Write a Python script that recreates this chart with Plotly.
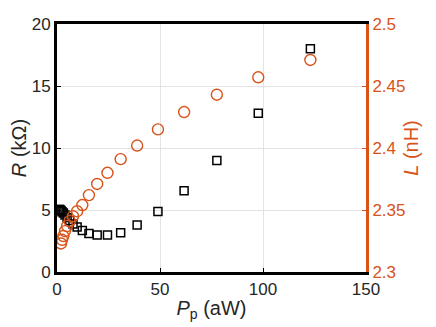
import plotly.graph_objects as go

# pump power (aW)
p_pump = [0.98, 1.23, 1.55, 1.95, 2.45, 3.09, 3.89, 4.9, 6.17, 7.76, 9.77,
          12.3, 15.5, 19.5, 24.5, 30.9, 38.9, 49.0, 61.7, 77.6, 97.7, 123.0]

# resistance (kOhm)
resistance = [5.05, 5.05, 5.0, 4.95, 4.85, 4.75, 4.6, 4.4, 4.15, 3.87, 3.62,
              3.35, 3.1, 2.98, 2.98, 3.17, 3.8, 4.87, 6.56, 9.0, 12.8, 18.0]

# inductance (nH)
p_pump_l = [1.95, 2.45, 3.09, 3.89, 4.9, 6.17, 7.76, 9.77, 12.3, 15.5, 19.5,
            24.5, 30.9, 38.9, 49.0, 61.7, 77.6, 97.7, 123.0]
inductance = [2.323, 2.326, 2.329, 2.333, 2.337, 2.341, 2.345, 2.349, 2.354,
              2.362, 2.371, 2.380, 2.391, 2.402, 2.415, 2.429, 2.443, 2.457,
              2.471]

orange = "#D95319"
dark = "#262626"
font = "Liberation Sans, Arial, sans-serif"

fig = go.Figure()

fig.add_trace(
    go.Scatter(
        x=p_pump,
        y=resistance,
        mode="markers",
        marker=dict(symbol="square-open", size=8, color="black",
                    line=dict(width=1.5, color="black")),
        yaxis="y",
        showlegend=False
    )
)

fig.add_trace(
    go.Scatter(
        x=p_pump_l,
        y=inductance,
        mode="markers",
        marker=dict(symbol="circle-open", size=11, color=orange,
                    line=dict(width=1.4, color=orange)),
        yaxis="y2",
        showlegend=False
    )
)

# page body adds an 8px offset, so the figure is a bit smaller than the window
fig.update_layout(
    width=428,
    height=319,
    margin=dict(l=49, r=70, t=16, b=55),
    plot_bgcolor="white",
    paper_bgcolor="white",
    font=dict(family=font, size=17, color=dark),
    xaxis=dict(
        range=[0, 150],
        tickvals=[0, 50, 100, 150],
        showgrid=True,
        gridcolor="#e3e3e3",
        gridwidth=1,
        zeroline=False,
        showline=True,
        linecolor="black",
        linewidth=3,
        mirror=True,
        ticks="inside",
        ticklen=4,
        tickcolor="black",
        automargin=False,
        title=dict(text="<i>P</i><sub>p</sub> (aW)", standoff=3),
    ),
    yaxis=dict(
        range=[0, 20],
        tickvals=[0, 5, 10, 15, 20],
        showgrid=True,
        gridcolor="#e3e3e3",
        gridwidth=1,
        zeroline=False,
        showline=True,
        linecolor="black",
        linewidth=3,
        ticks="inside",
        ticklen=4,
        tickcolor="black",
        automargin=False,
        title=dict(text="<i>R</i> (kΩ)", standoff=4),
    ),
    yaxis2=dict(
        range=[2.3, 2.5],
        tickvals=[2.3, 2.35, 2.4, 2.45, 2.5],
        overlaying="y",
        side="right",
        showgrid=False,
        zeroline=False,
        showline=True,
        linecolor=orange,
        linewidth=3,
        ticks="inside",
        ticklen=4,
        tickcolor=orange,
        tickfont=dict(color=orange),
        automargin=False,
        title=dict(text="<i>L</i> (nH)", font=dict(color=orange), standoff=0),
    ),
)

fig.write_html("out.html")
